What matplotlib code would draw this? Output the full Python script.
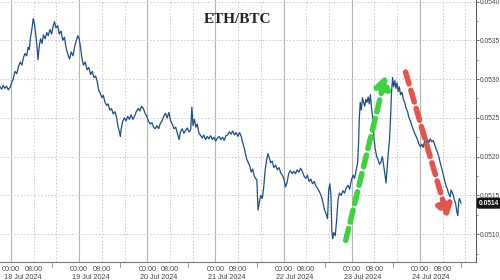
import matplotlib
matplotlib.use("Agg")
import matplotlib.pyplot as plt
import matplotlib.transforms as mtransforms

# hours from 18 Jul 2024 00:00 and ETH/BTC ratio
hours = [
    -3.9, -3.3, -2.8, -2.2, -1.6, -1.0, -0.4, 0.2, 0.8, 1.4, 2.0, 2.6, 3.2, 3.8, 4.4, 4.9,
    5.5, 6.0, 6.4, 6.9, 7.4, 7.8, 8.2, 8.6, 9.0, 9.5, 9.9, 10.4, 10.9, 11.4, 12.0, 12.6,
    13.1, 13.7, 14.3, 14.8, 15.3, 15.8, 16.4, 17.0, 17.6, 18.2, 18.8, 19.4, 20.0, 20.6,
    21.2, 21.8, 22.4, 23.0, 23.5, 24.0, 24.5, 25.0, 25.5, 26.1, 26.8, 27.4, 28.0, 28.6,
    29.2, 29.8, 30.4, 30.9, 31.4, 32.0, 32.5, 33.1, 33.7, 34.2, 34.8, 35.4, 36.0, 36.6,
    37.1, 37.6, 38.1, 38.5, 38.8, 39.3, 39.9, 40.5, 41.1, 41.7, 42.3, 42.9, 43.5, 44.1,
    44.8, 45.4, 46.0, 46.6, 47.2, 47.8, 48.4, 49.0, 49.6, 50.2, 50.8, 51.4, 52.0, 52.6,
    53.2, 53.8, 54.4, 55.0, 55.6, 56.2, 56.8, 57.4, 58.0, 58.6, 59.2, 59.7, 60.3, 60.9,
    61.5, 62.1, 62.7, 63.3, 63.7, 64.1, 64.6, 65.1, 65.6, 66.2, 66.7, 67.3, 67.9, 68.5,
    69.1, 69.7, 70.3, 70.9, 71.5, 72.1, 72.7, 73.3, 73.9, 74.5, 75.1, 75.7, 76.3, 76.9,
    77.5, 78.1, 78.7, 79.3, 79.9, 80.5, 81.1, 81.6, 82.1, 82.6, 83.1, 83.6, 84.1, 84.6,
    85.1, 85.6, 86.1, 86.6, 87.0, 87.5, 88.0, 88.5, 89.0, 89.5, 90.0, 90.5, 91.0, 91.5,
    92.0, 92.6, 93.2, 93.8, 94.4, 95.0, 95.6, 96.2, 96.7, 97.2, 97.8, 98.4, 99.0, 99.6,
    100.2, 100.8, 101.4, 102.0, 102.6, 103.2, 103.8, 104.4, 105.0, 105.6, 106.2, 106.8,
    107.4, 108.0, 108.6, 109.2, 109.8, 110.4, 111.0, 111.5, 111.9, 112.3, 112.7, 113.0,
    113.3, 113.7, 114.2, 114.7, 115.2, 115.7, 116.3, 116.9, 117.5, 118.1, 118.7, 119.3,
    119.9, 120.5, 121.0, 121.6, 122.1, 122.4, 122.7, 123.0, 123.4, 123.8, 124.2, 124.6,
    125.0, 125.4, 125.8, 126.2, 126.6, 127.0, 127.4, 127.8, 128.3, 128.8, 129.3, 129.8,
    130.3, 130.8, 131.3, 131.8, 132.1, 132.5, 132.9, 133.3, 133.7, 134.0, 134.4, 134.8,
    135.2, 135.6, 136.0, 136.4, 136.8, 137.2, 137.7, 138.2, 138.7, 139.2, 139.7, 140.2,
    140.7, 141.2, 141.7, 142.2, 142.7, 143.2, 143.7, 144.2, 144.7, 145.2, 145.7, 146.2,
    146.7, 147.2, 147.7, 148.2, 148.7, 149.2, 149.7, 150.2, 150.7, 151.2, 151.7, 152.2,
    152.7, 153.2, 153.7, 154.2, 154.7, 155.0, 155.4, 155.8, 156.2, 156.6, 157.0, 157.4,
    157.7, 158.0, 158.5,
]
ratio = [
    0.05290, 0.05287, 0.05292, 0.05288, 0.05291, 0.05286, 0.05289, 0.05295, 0.05301, 0.05310,
    0.05307, 0.05316, 0.05322, 0.05318, 0.05328, 0.05333, 0.05330, 0.05341, 0.05338, 0.05355,
    0.05366, 0.05378, 0.05372, 0.05360, 0.05348, 0.05325, 0.05342, 0.05352, 0.05346, 0.05357,
    0.05352, 0.05360, 0.05356, 0.05364, 0.05358, 0.05368, 0.05374, 0.05366, 0.05369, 0.05358,
    0.05362, 0.05350, 0.05354, 0.05340, 0.05332, 0.05326, 0.05335, 0.05330, 0.05342, 0.05350,
    0.05356, 0.05352, 0.05340, 0.05326, 0.05318, 0.05322, 0.05312, 0.05315, 0.05306, 0.05310,
    0.05302, 0.05304, 0.05296, 0.05285, 0.05282, 0.05276, 0.05279, 0.05270, 0.05266, 0.05268,
    0.05260, 0.05262, 0.05255, 0.05258, 0.05252, 0.05240, 0.05233, 0.05226, 0.05236, 0.05245,
    0.05250, 0.05246, 0.05252, 0.05248, 0.05254, 0.05248, 0.05252, 0.05258, 0.05262, 0.05259,
    0.05265, 0.05262, 0.05256, 0.05252, 0.05246, 0.05242, 0.05244, 0.05238, 0.05236, 0.05240,
    0.05236, 0.05243, 0.05246, 0.05252, 0.05256, 0.05250, 0.05257, 0.05246, 0.05242, 0.05236,
    0.05238, 0.05230, 0.05222, 0.05232, 0.05236, 0.05230, 0.05234, 0.05237, 0.05232, 0.05235,
    0.05264, 0.05240, 0.05248, 0.05238, 0.05242, 0.05230, 0.05228, 0.05224, 0.05228, 0.05222,
    0.05226, 0.05223, 0.05227, 0.05222, 0.05225, 0.05220, 0.05224, 0.05226, 0.05222, 0.05225,
    0.05221, 0.05227, 0.05228, 0.05232, 0.05229, 0.05233, 0.05228, 0.05231, 0.05226, 0.05231,
    0.05226, 0.05218, 0.05212, 0.05203, 0.05196, 0.05192, 0.05188, 0.05180, 0.05184, 0.05176,
    0.05172, 0.05170, 0.05131, 0.05142, 0.05150, 0.05146, 0.05160, 0.05182, 0.05195, 0.05204,
    0.05198, 0.05192, 0.05194, 0.05186, 0.05189, 0.05183, 0.05186, 0.05179, 0.05176, 0.05170,
    0.05161, 0.05166, 0.05178, 0.05182, 0.05178, 0.05181, 0.05178, 0.05183, 0.05180, 0.05185,
    0.05181, 0.05175, 0.05172, 0.05176, 0.05168, 0.05171, 0.05165, 0.05168, 0.05162, 0.05159,
    0.05155, 0.05150, 0.05142, 0.05132, 0.05126, 0.05120, 0.05157, 0.05165, 0.05150, 0.05105,
    0.05094, 0.05102, 0.05098, 0.05118, 0.05145, 0.05153, 0.05150, 0.05156, 0.05153, 0.05160,
    0.05163, 0.05158, 0.05170, 0.05176, 0.05172, 0.05183, 0.05192, 0.05215, 0.05250, 0.05270,
    0.05260, 0.05276, 0.05270, 0.05265, 0.05274, 0.05270, 0.05277, 0.05268, 0.05280, 0.05262,
    0.05250, 0.05225, 0.05210, 0.05200, 0.05196, 0.05190, 0.05193, 0.05200, 0.05188, 0.05175,
    0.05166, 0.05185, 0.05205, 0.05220, 0.05250, 0.05280, 0.05302, 0.05290, 0.05298, 0.05288,
    0.05295, 0.05284, 0.05290, 0.05280, 0.05283, 0.05274, 0.05270, 0.05262, 0.05258, 0.05250,
    0.05246, 0.05240, 0.05235, 0.05230, 0.05226, 0.05222, 0.05216, 0.05213, 0.05216, 0.05212,
    0.05220, 0.05217, 0.05222, 0.05218, 0.05223, 0.05219, 0.05221, 0.05216, 0.05210, 0.05206,
    0.05200, 0.05192, 0.05185, 0.05178, 0.05170, 0.05163, 0.05158, 0.05152, 0.05148, 0.05157,
    0.05154, 0.05150, 0.05144, 0.05140, 0.05130, 0.05124, 0.05142, 0.05146, 0.05140,
]

days = ["18 Jul 2024", "19 Jul 2024", "20 Jul 2024", "21 Jul 2024",
        "22 Jul 2024", "23 Jul 2024", "24 Jul 2024"]
y_ticks = [0.0510, 0.0515, 0.0520, 0.0525, 0.0530, 0.0535, 0.0540]
last_value = "0.0514"

# annotation arrows: (start hour, start ratio, end hour, end ratio)
up_arrow = (117.9, 0.05092, 132.0, 0.05305)
down_arrow = (139.0, 0.05309, 153.9, 0.05121)

SANS = "Liberation Sans"
TXT = "#444444"

fig = plt.figure(figsize=(5, 2.8), dpi=100)
ax = fig.add_axes([0, 0.064, 0.952, 0.936])

ax.set_xlim(-3.9, 163.8)
ax.set_ylim(0.05064, 0.05402)

# grid: solid at midnight, dotted at 08:00 / 16:00
for i in range(len(days)):
    base = 24 * i
    ax.axvline(base, color="#b4b4b4", lw=0.8, zorder=0)
    ax.axvline(base + 8, color="#c8c8c8", lw=0.7, ls=(0, (1.5, 2)), zorder=0)
    ax.axvline(base + 16, color="#c8c8c8", lw=0.7, ls=(0, (1.5, 2)), zorder=0)
for v in y_ticks:
    ax.axhline(v, color="#c8c8c8", lw=0.7, ls=(0, (1.5, 2)), zorder=0)

ax.plot(hours, ratio, color="#1f4d86", lw=0.9, zorder=3)

for arr, col in [(up_arrow, "#3fd23f"), (down_arrow, "#e2544e")]:
    x0, y0, x1, y1 = arr
    ax.annotate("", xy=(x1, y1), xytext=(x0, y0), zorder=4,
                arrowprops=dict(arrowstyle="-|>,head_length=0.7,head_width=0.45",
                                color=col, lw=4, ls=(0, (2.2, 1.2)),
                                shrinkA=0, shrinkB=0))

ax.text(0.5, 0.925, "ETH/BTC", transform=ax.transAxes, ha="center", va="center",
        fontsize=11, fontweight="bold", family="Liberation Serif", color="#222222")

# right axis
for s in ["left", "top", "bottom"]:
    ax.spines[s].set_visible(False)
ax.spines["right"].set_color("#555555")
ax.spines["right"].set_linewidth(0.7)
ax.yaxis.tick_right()
ax.set_yticks(y_ticks)
ax.set_yticks([v + 0.00025 for v in y_ticks[:-1]] + [0.05075], minor=True)
ax.set_yticklabels([f"{v:.4f}" for v in y_ticks], family=SANS)
ax.tick_params(axis="y", which="major", labelsize=4.8, labelcolor=TXT,
               color="#555555", length=2, width=0.6, pad=0.8)
ax.tick_params(axis="y", which="minor", color="#555555", length=1.5, width=0.5)

ax.set_xticks([])
ax.axhline(0.05064, color="#777777", lw=0.8, clip_on=False)

# bottom time labels
trans = mtransforms.blended_transform_factory(ax.transData, ax.transAxes)
for i, d in enumerate(days):
    base = 24 * i
    ax.text(base, -0.016, "00:00", transform=trans, ha="center", va="top",
            fontsize=5.2, color=TXT, family=SANS)
    ax.text(base + 8, -0.016, "08:00", transform=trans, ha="center", va="top",
            fontsize=5.2, color=TXT, family=SANS)
    ax.text(base + 4, -0.044, d, transform=trans, ha="center", va="top",
            fontsize=5.2, color=TXT, family=SANS)
    ax.plot([base + 14.5, base + 14.5], [0, -0.02], transform=trans,
            color="#888888", lw=0.6, clip_on=False)

ax.text(1.006, 0.05140, last_value, transform=mtransforms.blended_transform_factory(
    ax.transAxes, ax.transData), ha="left", va="center", fontsize=4.8, color="white",
    family=SANS, fontweight="bold",
    bbox=dict(boxstyle="round,pad=0.2", fc="#111111", ec="#111111"))

fig.savefig("out.png", dpi=100)
